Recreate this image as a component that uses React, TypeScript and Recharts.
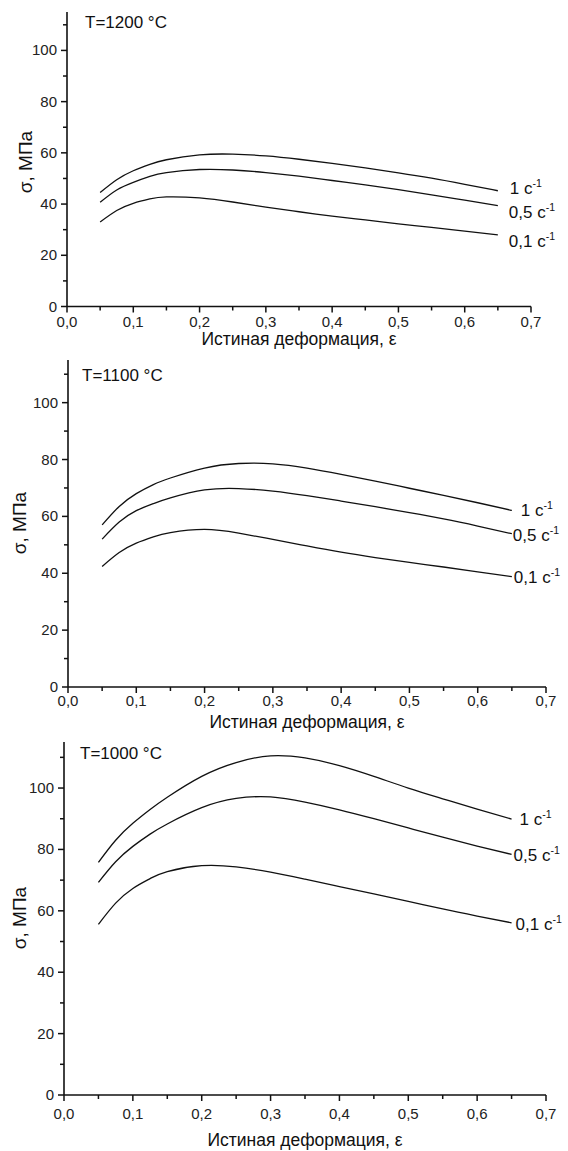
import React from "react";
import { LineChart, Line, XAxis, YAxis } from "recharts";

// true strain, shared by all curves
const STRAIN = [0.05, 0.075, 0.1, 0.125, 0.15, 0.2, 0.25, 0.3, 0.35, 0.4, 0.45, 0.5, 0.55, 0.6, 0.65];
const RATE_LABELS = ["1", "0,5", "0,1"];
const X_TICKS = [0, 0.05, 0.1, 0.15, 0.2, 0.25, 0.3, 0.35, 0.4, 0.45, 0.5, 0.55, 0.6, 0.65, 0.7];
const Y_TICKS = [0, 10, 20, 30, 40, 50, 60, 70, 80, 90, 100, 110];

// T = 1200 °C
const T1200_R1 = [44.5, 49.5, 53, 55.5, 57.3, 59.2, 59.5, 58.8, 57.5, 55.9, 54.1, 52.2, 50.1, 47.7, 45.2];
const T1200_R05 = [40.7, 45.5, 48.5, 50.8, 52.3, 53.5, 53.3, 52.3, 50.9, 49.2, 47.5, 45.6, 43.6, 41.5, 39.4];
const T1200_R01 = [33, 37.5, 40.3, 42, 42.8, 42.4, 40.8, 38.8, 37, 35.3, 33.8, 32.3, 30.9, 29.4, 28];

// T = 1100 °C
const T1100_R1 = [57, 63.5, 68, 71.2, 73.5, 77, 78.6, 78.5, 77, 74.8, 72.4, 69.9, 67.4, 64.8, 62.1];
const T1100_R05 = [52, 58, 62, 64.5, 66.5, 69.3, 69.8, 68.9, 67.3, 65.4, 63.4, 61.3, 59.1, 56.6, 53.9];
const T1100_R01 = [42.4, 47.3, 50.6, 52.8, 54.3, 55.4, 54.1, 51.9, 49.6, 47.4, 45.5, 43.8, 42.2, 40.5, 38.8];

// T = 1000 °C
const T1000_R1 = [75.8, 83, 88.5, 93, 97, 103.8, 108.3, 110.5, 109.8, 107.3, 103.8, 100, 96.5, 93.1, 89.9];
const T1000_R05 = [69.3, 76, 81, 85, 88.3, 93.6, 96.6, 97.1, 95.4, 92.9, 90, 87, 84, 81.1, 78.4];
const T1000_R01 = [55.6, 62.5, 67.3, 70.5, 72.8, 74.7, 74.3, 72.6, 70.3, 67.9, 65.5, 63.1, 60.6, 58.3, 56.1];

const FONT = '"Liberation Sans", Arial, sans-serif';
const INK = "#111";

const buildRows = (r1: number[], r05: number[], r01: number[]) =>
  STRAIN.map((e, i) => ({ e, r1: r1[i], r05: r05[i], r01: r01[i] }));

const fmt = (v: number) => v.toFixed(1).replace(".", ",");

const makeXTick = (labelDy: number, fs: number) => (props: any) => {
  const { x, y, payload } = props;
  const v = payload.value;
  const major = Math.abs(v * 10 - Math.round(v * 10)) < 1e-6;
  return (
    <g>
      <line x1={x} x2={x} y1={y} y2={y + (major ? 6 : 4)} stroke={INK} strokeWidth={1.5} />
      {major && (
        <text x={x} y={y + labelDy} textAnchor="middle" fontSize={fs} fill="#222" fontFamily={FONT}>
          {fmt(v)}
        </text>
      )}
    </g>
  );
};

const makeYTick = (fs: number) => (props: any) => {
  const { x, y, payload } = props;
  const v = payload.value;
  const major = v % 20 === 0;
  return (
    <g>
      <line x1={x - (major ? 6 : 4)} x2={x} y1={y} y2={y} stroke={INK} strokeWidth={1.5} />
      {major && (
        <text x={x - 10} y={y + 5} textAnchor="end" fontSize={fs} fill="#222" fontFamily={FONT}>
          {v}
        </text>
      )}
    </g>
  );
};

const endLabel = (text: string, dx: number, dy: number, fs: number) => (p: any) => {
  if (p.index !== STRAIN.length - 1) return null;
  return (
    <text x={p.x + dx} y={p.y + dy} fontSize={fs} fill={INK} fontFamily={FONT}>
      <tspan>{text} c</tspan>
      <tspan dy={-7} fontSize={fs * 0.62}>-1</tspan>
    </text>
  );
};

interface PanelProps {
  title: string;
  rows: any[];
  top: number;
  height: number;
  plot: { left: number; right: number; top: number; bottom: number };
  tickDy: number;
  tickFs: number;
  labelFs: number;
  labelOffsets: [number, number][];
  yLabel: [number, number];
  xTitleY: number;
  titlePos: [number, number];
}

function Panel(p: PanelProps) {
  const W = 568;
  const bottomSpace = p.top + p.height - p.plot.bottom;
  const margin = {
    left: 0,
    right: W - p.plot.right,
    top: p.plot.top - p.top,
    bottom: 0,
  };
  const keys = ["r1", "r05", "r01"];
  const xMid = (p.plot.left + p.plot.right) / 2;
  return (
    <div style={{ position: "absolute", left: 0, top: p.top, width: W, height: p.height, background: "#fff" }}>
      <LineChart width={W} height={p.height} data={p.rows} margin={margin}>
        <XAxis
          dataKey="e"
          type="number"
          domain={[0, 0.7]}
          ticks={X_TICKS}
          interval={0}
          height={bottomSpace}
          tickSize={0}
          tickMargin={0}
          tickLine={false}
          axisLine={{ stroke: INK, strokeWidth: 1.6 }}
          tick={makeXTick(p.tickDy, p.tickFs)}
        />
        <YAxis
          type="number"
          domain={[0, 115]}
          ticks={Y_TICKS}
          interval={0}
          width={p.plot.left}
          tickSize={0}
          tickMargin={0}
          tickLine={false}
          axisLine={{ stroke: INK, strokeWidth: 1.6 }}
          tick={makeYTick(p.tickFs)}
        />
        {keys.map((k, i) => (
          <Line
            key={k}
            dataKey={k}
            type="natural"
            stroke={INK}
            strokeWidth={1.3}
            dot={false}
            isAnimationActive={false}
            label={endLabel(RATE_LABELS[i], p.labelOffsets[i][0], p.labelOffsets[i][1], p.labelFs)}
          />
        ))}
      </LineChart>
      <svg width={W} height={p.height} style={{ position: "absolute", left: 0, top: 0, pointerEvents: "none" }}>
        <text x={p.titlePos[0]} y={p.titlePos[1] - p.top} fontSize={17} fill={INK} fontFamily={FONT}>
          {p.title}
        </text>
        <text
          transform={`translate(${p.yLabel[0]}, ${p.yLabel[1] - p.top}) rotate(-90)`}
          textAnchor="middle"
          fontSize={19}
          fill={INK}
          fontFamily={FONT}
        >
          σ, МПа
        </text>
        <text x={xMid} y={p.xTitleY - p.top} textAnchor="middle" fontSize={17.5} fill={INK} fontFamily={FONT}>
          Истиная деформация, ε
        </text>
      </svg>
    </div>
  );
}

export default function App() {
  return (
    <div style={{ position: "absolute", left: 0, top: 0, width: 568, height: 1151, background: "#fff" }}>
      <Panel
        title="T=1200 °C"
        rows={buildRows(T1200_R1, T1200_R05, T1200_R01)}
        top={0}
        height={356}
        plot={{ left: 67, right: 531, top: 12, bottom: 306.5 }}
        tickDy={20}
        tickFs={15}
        labelFs={17}
        labelOffsets={[[12, 3], [11, 12], [11, 12]]}
        yLabel={[32, 162]}
        xTitleY={345}
        titlePos={[85, 28]}
      />
      <Panel
        title="T=1100 °C"
        rows={buildRows(T1100_R1, T1100_R05, T1100_R01)}
        top={356}
        height={378}
        plot={{ left: 68, right: 546, top: 360, bottom: 687 }}
        tickDy={19}
        tickFs={15}
        labelFs={17}
        labelOffsets={[[9, 6], [1, 7], [2, 6]]}
        yLabel={[26, 523]}
        xTitleY={728}
        titlePos={[82, 381]}
      />
      <Panel
        title="T=1000 °C"
        rows={buildRows(T1000_R1, T1000_R05, T1000_R01)}
        top={734}
        height={417}
        plot={{ left: 64, right: 546, top: 742, bottom: 1095 }}
        tickDy={24}
        tickFs={15}
        labelFs={17}
        labelOffsets={[[8, 6], [2, 7], [4, 7]]}
        yLabel={[26, 918]}
        xTitleY={1146}
        titlePos={[80, 759]}
      />
    </div>
  );
}
